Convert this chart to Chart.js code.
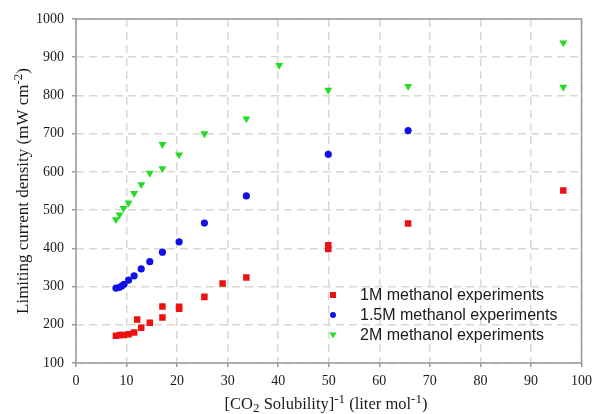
<!DOCTYPE html>
<html>
<head>
<meta charset="utf-8">
<script src="https://cdn.jsdelivr.net/npm/chart.js@4.4.1/dist/chart.umd.min.js"></script>
<style>
  html, body { margin: 0; padding: 0; background: #fff; }
  #wrap { width: 598px; height: 414px; position: relative; }
</style>
</head>
<body>
<div id="wrap"><canvas id="chart"></canvas></div>
<script>
// [CO2 Solubility]^-1 (liter/mol) vs limiting current density (mW/cm2)
const x1M = [7.9, 8.7, 9.4, 10.4, 11.5, 12.1, 12.9, 14.6, 17.1, 17.1, 20.4, 20.4, 25.4, 29.0, 33.7, 49.9, 49.9, 65.7, 96.4];
const y1M = [171, 173, 173, 175, 180, 214, 192, 205, 248, 219, 242, 247, 273, 308, 324, 398, 408, 465, 551];

const x15M = [7.9, 8.6, 9.1, 9.5, 10.4, 11.5, 12.9, 14.6, 17.1, 20.4, 25.4, 33.7, 49.9, 65.7];
const y15M = [296, 298, 302, 306, 317, 328, 346, 365, 390, 417, 466, 537, 646, 708];

const x2M = [7.9, 8.6, 9.4, 10.4, 11.5, 12.9, 14.6, 17.1, 17.1, 20.4, 25.4, 33.7, 40.2, 49.9, 65.7, 96.4, 96.4];
const y2M = [475, 488, 505, 519, 544, 567, 597, 609, 672, 645, 700, 739, 879, 814, 824, 938, 822];

const seriesLabels = ["1M methanol experiments", "1.5M methanol experiments", "2M methanol experiments"];
const seriesColors = ["#ee1111", "#1111e6", "#22dd22"];

const xTitle = [["[CO", 0], ["2", -1], [" Solubility]", 0], ["-1", 1], [" (liter mol", 0], ["-1", 1], [")", 0]];
const yTitle = [["Limiting current density (mW cm", 0], ["-2", 1], [")", 0]];

function pairs(xs, ys) {
  return xs.map((x, i) => ({ x: x, y: ys[i] }));
}

const serif = '"Liberation Serif", "Times New Roman", serif';
const sans = '"Liberation Sans", Arial, sans-serif';

function drawRich(ctx, parts, cx, cy, size) {
  const big = size + "px " + serif;
  const small = "13px " + serif;
  let total = 0;
  parts.forEach(([t, s]) => {
    ctx.font = s ? small : big;
    total += ctx.measureText(t).width;
  });
  let x = cx - total / 2;
  ctx.textBaseline = "alphabetic";
  ctx.textAlign = "left";
  parts.forEach(([t, s]) => {
    ctx.font = s ? small : big;
    const dy = s === 1 ? -6 : s === -1 ? 3 : 0;
    ctx.fillText(t, x, cy + 5 + dy);
    x += ctx.measureText(t).width;
  });
}

const decorPlugin = {
  id: "decor",
  afterDraw(chart) {
    const ctx = chart.ctx;
    const a = chart.chartArea;
    ctx.save();
    // frame
    ctx.strokeStyle = "#9a9a9a";
    ctx.lineWidth = 1.5;
    ctx.strokeRect(a.left, a.top, a.right - a.left, a.bottom - a.top);

    // axis titles
    ctx.fillStyle = "#1a1a1a";
    drawRich(ctx, xTitle, 326, 404, 16.5);
    ctx.save();
    ctx.translate(23, 191);
    ctx.rotate(-Math.PI / 2);
    drawRich(ctx, yTitle, 0, 0, 17);
    ctx.restore();

    // legend
    const lx = 333, tx = 360;
    const rows = [295, 315, 335];
    ctx.font = "16px " + sans;
    ctx.textBaseline = "middle";
    ctx.textAlign = "left";
    rows.forEach((ry, i) => {
      ctx.fillStyle = seriesColors[i];
      ctx.beginPath();
      if (i === 0) {
        ctx.rect(lx - 3, ry - 3, 6, 6);
      } else if (i === 1) {
        ctx.arc(lx, ry, 3, 0, Math.PI * 2);
      } else {
        ctx.moveTo(lx - 3.5, ry - 2.5);
        ctx.lineTo(lx + 3.5, ry - 2.5);
        ctx.lineTo(lx, ry + 3.5);
        ctx.closePath();
      }
      ctx.fill();
      ctx.fillStyle = "#1a1a1a";
      ctx.fillText(seriesLabels[i], tx, ry + 1);
    });
    ctx.restore();
  }
};

const gridStyle = {
  color: "#dcd8cf",
  lineWidth: 1.5,
  tickColor: "#9a9a9a",
  tickBorderDash: [],
  tickWidth: 1.5,
  tickLength: 4
};
const borderStyle = { display: false, dash: [8, 5] };

new Chart(document.getElementById("chart"), {
  type: "scatter",
  data: {
    datasets: [
      {
        label: seriesLabels[0],
        data: pairs(x1M, y1M),
        pointStyle: "rect",
        pointRadius: 4.6,
        backgroundColor: seriesColors[0],
        borderWidth: 0
      },
      {
        label: seriesLabels[1],
        data: pairs(x15M, y15M),
        pointStyle: "circle",
        pointRadius: 3.6,
        backgroundColor: seriesColors[1],
        borderWidth: 0
      },
      {
        label: seriesLabels[2],
        data: pairs(x2M, y2M),
        pointStyle: "triangle",
        pointRotation: 180,
        pointRadius: 4.6,
        backgroundColor: seriesColors[2],
        borderWidth: 0
      }
    ]
  },
  options: {
    responsive: true,
    maintainAspectRatio: false,
    animation: false,
    layout: { padding: { left: 0, right: 14, top: 19, bottom: 0 } },
    plugins: {
      legend: { display: false },
      tooltip: { enabled: false }
    },
    scales: {
      x: {
        type: "linear",
        min: 0,
        max: 100,
        grid: gridStyle,
        border: borderStyle,
        ticks: {
          stepSize: 10,
          padding: 6,
          color: "#1a1a1a",
          font: { family: serif, size: 14 },
          callback: (v) => String(v)
        },
        afterFit(scale) { scale.height = 51; }
      },
      y: {
        type: "linear",
        min: 100,
        max: 1000,
        grid: gridStyle,
        border: borderStyle,
        ticks: {
          stepSize: 100,
          padding: 8,
          color: "#1a1a1a",
          font: { family: serif, size: 14 },
          callback: (v) => String(v)
        },
        afterFit(scale) { scale.width = 76; }
      }
    }
  },
  plugins: [decorPlugin]
});
</script>
</body>
</html>
